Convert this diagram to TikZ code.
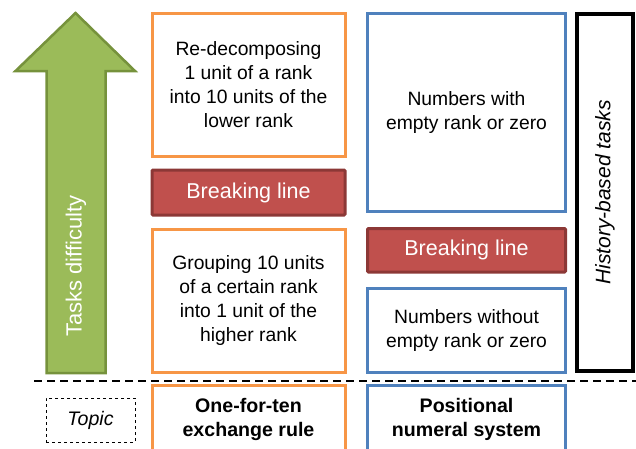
\documentclass[tikz,border=0pt]{standalone}
\usepackage{fontspec}
\setmainfont{Liberation Sans}
\definecolor{tskorange}{HTML}{F79646}
\definecolor{tskblue}{HTML}{4F81BD}
\definecolor{tskred}{HTML}{C0504D}
\definecolor{tskredline}{HTML}{8C3836}
\definecolor{tskgreen}{HTML}{9BBB59}
\definecolor{tskgreenline}{HTML}{76923C}
\begin{document}
\begin{tikzpicture}[x=1pt,y=-1pt,
    box/.style={draw,line width=3pt,fill=white,align=center,inner sep=0pt,
      font=\fontsize{19.3}{24}\selectfont,minimum width=193pt},
    orangebox/.style={box,draw=tskorange},
    bluebox/.style={box,draw=tskblue,minimum width=198pt},
    breakbox/.style={box,draw=tskredline,fill=tskred,text=white,
      rounded corners=1pt,font=\fontsize{21.5}{25}\selectfont},
    topicfont/.style={font=\fontsize{19.6}{24}\selectfont\bfseries}]
  \useasboundingbox (0,0) rectangle (636,448);
  \clip (0,0) rectangle (636,448);
  % difficulty arrow
  \filldraw[fill=tskgreen,draw=tskgreenline,line width=2.5pt,line join=miter]
    (75.5,13) -- (135,71) -- (105.5,71) -- (105.5,373) -- (46.5,373)
    -- (46.5,71) -- (15.5,71) -- cycle;
  \node[rotate=90,text=white,font=\fontsize{22}{26}\selectfont] (diff) at (76,266) {Tasks difficulty};
  % one-for-ten column
  \node[orangebox,minimum height=143pt] (regroup) at (248.5,84.5)
    {Re-decomposing\\1 unit of a rank\\into 10 units of the\\lower rank};
  \node[breakbox,minimum height=45pt] (breakA) at (248.5,192.5) {Breaking line};
  \node[orangebox,minimum height=143pt] (group) at (248.5,300.5)
    {Grouping 10 units\\of a certain rank\\into 1 unit of the\\higher rank};
  \node[orangebox,topicfont,minimum height=68pt] (exchange) at (248.5,419)
    {One-for-ten\\exchange rule};
  % positional column
  \node[bluebox,minimum height=197.5pt] (withzero) at (466.5,112.25)
    {Numbers with\\empty rank or zero};
  \node[breakbox,minimum width=198pt,minimum height=43.5pt] (breakB) at (466.5,250.25) {Breaking line};
  \node[bluebox,minimum height=84pt] (withoutzero) at (466.5,330)
    {Numbers without\\empty rank or zero};
  \node[bluebox,topicfont,minimum height=68pt] (positional) at (466.5,419)
    {Positional\\numeral system};
  % history box
  \node[box,draw=black,line width=4pt,rotate=90,minimum width=357pt,minimum height=56pt,
    font=\fontsize{21}{25}\selectfont\itshape] (history) at (605,192.5) {History-based tasks};
  % topic row
  \draw[line width=2.5pt,dash pattern=on 8pt off 5pt] (34,381) -- (636,381);
  \node[draw,dashed,line width=0.8pt,minimum width=89pt,minimum height=44pt,
    font=\fontsize{19.6}{24}\selectfont\itshape] (topic) at (90.5,420) {Topic};
\end{tikzpicture}
\end{document}
